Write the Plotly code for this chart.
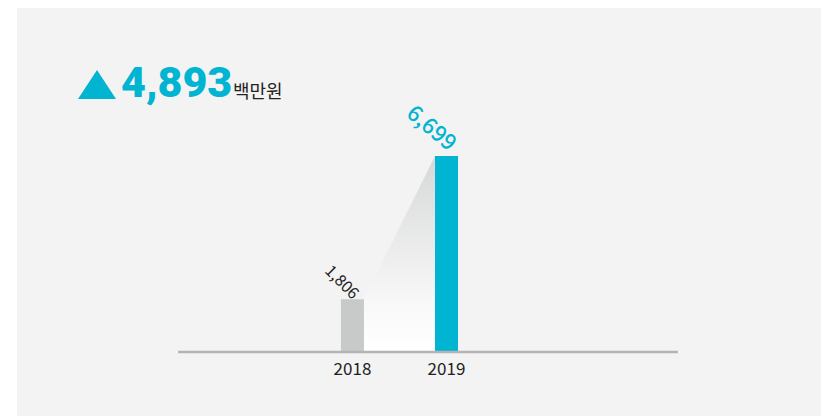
import plotly.graph_objects as go

years = ["2018", "2019"]
values = [1806, 6699]
bar_colors = ["#c8c9c9", "#00b4d2"]
increase = values[1] - values[0]
unit = "백만원"

W, H = 821, 408          # page has 8px body margin
bw = 0.245
xpos = [0, 1]


def px(x):   # page pixel -> paper x
    return (x - 178) / 500


def py(y):   # page pixel -> paper y
    return (352 - y) / 312


fig = go.Figure()

# gradient wedge between the two bar tops
fig.add_trace(go.Scatter(
    x=[xpos[0] + bw / 2, xpos[1] - bw / 2, xpos[1] - bw / 2, xpos[0] + bw / 2, xpos[0] + bw / 2],
    y=[values[0], values[1], 0, 0, values[0]],
    fill="toself", mode="none", hoverinfo="skip",
    fillgradient=dict(type="vertical",
                      colorscale=[[0, "#ffffff"], [0.25, "#f8f8f8"], [1, "#d6d7d7"]]),
    showlegend=False,
))

fig.add_trace(go.Bar(
    x=xpos, y=values, width=bw, marker=dict(color=bar_colors, line=dict(width=0)),
    showlegend=False, hoverinfo="skip",
))

fig.add_annotation(x=xpos[0] - 0.1, y=values[0], yshift=18, text=f"{values[0]:,}",
                   textangle=45, showarrow=False,
                   font=dict(family="Noto Sans CJK KR", size=16, color="#222222"))
fig.add_annotation(x=xpos[1] - 0.14, y=values[1], yshift=30, text=f"{values[1]:,}",
                   textangle=40, showarrow=False,
                   font=dict(family="Noto Sans CJK KR", size=22, color="#00b4d2", weight=500))

# headline
fig.add_shape(type="path", xref="paper", yref="paper",
              path=f"M {px(78)} {py(99)} L {px(116)} {py(99)} L {px(97)} {py(70)} Z",
              fillcolor="#00b4d2", line=dict(width=0))
fig.add_annotation(xref="paper", yref="paper", x=px(119), y=py(82),
                   xanchor="left", yanchor="middle", showarrow=False,
                   text=f"{increase:,}",
                   font=dict(family="Roboto", size=43, color="#00b4d2", weight=900))
fig.add_annotation(xref="paper", yref="paper", x=px(231), y=py(90),
                   xanchor="left", yanchor="middle", showarrow=False,
                   text=unit, font=dict(family="Noto Sans CJK KR", size=18, color="#222222"))

# gray panel
fig.add_shape(type="rect", xref="paper", yref="paper", layer="below",
              x0=px(17), x1=px(840), y0=py(430), y1=py(0),
              fillcolor="#f3f3f3", line=dict(width=0))

# baseline (paper refs so it is not clipped by the plot area)
fig.add_shape(type="line", xref="paper", yref="paper", x0=0, x1=1, y0=py(352), y1=py(352),
              line=dict(color="#b4b4b4", width=2.5))

fig.update_layout(
    width=W, height=H,
    margin=dict(l=170, r=151, t=32, b=64),
    paper_bgcolor="white", plot_bgcolor="rgba(0,0,0,0)",
    xaxis=dict(range=[-1.856, 3.463], tickvals=xpos, ticktext=years, showgrid=False,
               zeroline=False, showline=False, ticks="", ticklabelstandoff=5,
               tickfont=dict(family="Noto Sans CJK KR", size=17, color="#222222")),
    yaxis=dict(range=[0, 312 / (196 / 6699)], visible=False, showgrid=False, zeroline=False),
)

fig.write_html("out.html")
